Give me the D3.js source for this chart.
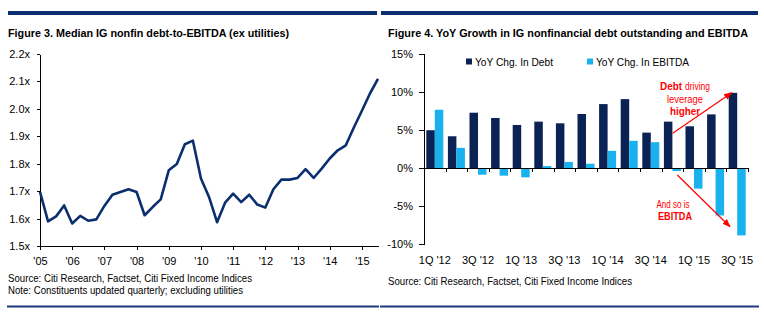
<!DOCTYPE html>
<html>
<head>
<meta charset="utf-8">
<script src="https://cdn.jsdelivr.net/npm/d3@7"></script>
<style>
  body { margin: 0; background: #fff; }
  svg { display: block; font-family: "Liberation Sans", Arial, sans-serif; }
  .axis path, .axis line { stroke: #000; shape-rendering: crispEdges; }
  .axis text { fill: #000; font-size: 11px; }
</style>
</head>
<body>
<svg id="chart" width="764" height="321"></svg>
<script>
// Figure 3: median debt-to-EBITDA, quarterly 1Q05 .. 3Q15
const leverage = [
  1.697, 1.590, 1.608, 1.648, 1.582, 1.610, 1.592, 1.597,
  1.646, 1.687, 1.697, 1.707, 1.697, 1.612, 1.642, 1.670,
  1.776, 1.799, 1.871, 1.884, 1.746, 1.679, 1.587, 1.658,
  1.691, 1.660, 1.687, 1.651, 1.640, 1.707, 1.742, 1.742,
  1.748, 1.780, 1.748, 1.782, 1.819, 1.849, 1.867, 1.932,
  1.993, 2.056, 2.109
];
const leverageStart = 2005;
const leverageYears = [2005, 2006, 2007, 2008, 2009, 2010, 2011, 2012, 2013, 2014, 2015];
const leverageTicks = [1.5, 1.6, 1.7, 1.8, 1.9, 2.0, 2.1, 2.2];

// Figure 4: YoY growth, %
const quarters = [
  "1Q '12", "2Q '12", "3Q '12", "4Q '12",
  "1Q '13", "2Q '13", "3Q '13", "4Q '13",
  "1Q '14", "2Q '14", "3Q '14", "4Q '14",
  "1Q '15", "2Q '15", "3Q '15"
];
const debtGrowth = [4.96, 4.17, 7.26, 6.57, 5.65, 6.09, 5.87, 7.09, 8.39, 9.04, 4.65, 6.09, 5.48, 7.04, 9.87];
const ebitdaGrowth = [7.65, 2.65, -0.87, -1.0, -1.22, 0.26, 0.8, 0.57, 2.26, 3.57, 3.39, -0.39, -2.70, -6.22, -8.83];
const growthTicks = [-10, -5, 0, 5, 10, 15];
const seriesNames = ["YoY Chg. In Debt", "YoY Chg. In EBITDA"];

const navy = "#0b2f6e";
const debtColor = "#0b2254";
const ebitdaColor = "#1ab2ee";
const red = "#ff0000";

const svg = d3.select("#chart");

// squeeze a text run into a given width
function fit(sel, w) {
  sel.attr("textLength", w).attr("lengthAdjust", "spacingAndGlyphs");
}

// header bars and footer rules
svg.append("rect").attr("x", 8).attr("y", 11).attr("width", 369).attr("height", 4).attr("fill", navy);
svg.append("rect").attr("x", 381).attr("y", 11).attr("width", 377).attr("height", 4).attr("fill", navy);
svg.append("rect").attr("x", 7).attr("y", 305.5).attr("width", 372).attr("height", 2).attr("fill", "#1a3a7a");
svg.append("rect").attr("x", 380).attr("y", 305.5).attr("width", 379).attr("height", 2).attr("fill", "#1a3a7a");

// titles
svg.append("text").attr("x", 8).attr("y", 37)
  .attr("font-size", 11.5).attr("font-weight", "bold")
  .text("Figure 3. Median IG nonfin debt-to-EBITDA (ex utilities)")
  .call(fit, 281);
svg.append("text").attr("x", 388).attr("y", 37)
  .attr("font-size", 11).attr("font-weight", "bold")
  .text("Figure 4. YoY Growth in IG nonfinancial debt outstanding and EBITDA")
  .call(fit, 360);

// sources
svg.append("text").attr("x", 8).attr("y", 282).attr("font-size", 11)
  .text("Source: Citi Research, Factset, Citi Fixed Income Indices").call(fit, 244);
svg.append("text").attr("x", 8).attr("y", 294).attr("font-size", 11)
  .text("Note: Constituents updated quarterly; excluding utilities").call(fit, 235);
svg.append("text").attr("x", 388).attr("y", 285).attr("font-size", 11)
  .text("Source: Citi Research, Factset, Citi Fixed Income Indices").call(fit, 244);

// ---- left panel: leverage line ----
const xL = d3.scaleLinear().domain([2005, 2015.5]).range([40, 378]);
const yL = d3.scaleLinear().domain([1.5, 2.2]).range([246, 54]);

svg.append("g").attr("class", "axis")
  .attr("transform", "translate(40,0)")
  .call(d3.axisLeft(yL).tickValues(leverageTicks).tickSize(3).tickPadding(7)
    .tickSizeOuter(0).tickFormat(d => d.toFixed(1) + "x"));

svg.append("g").attr("class", "axis")
  .attr("transform", "translate(0,246)")
  .call(d3.axisBottom(xL).tickValues(leverageYears).tickSize(4).tickPadding(7)
    .tickSizeOuter(0).tickFormat(d => "'" + String(d).slice(2)));

svg.append("path")
  .datum(leverage)
  .attr("fill", "none")
  .attr("stroke", navy)
  .attr("stroke-width", 2.6)
  .attr("stroke-linejoin", "round")
  .attr("d", d3.line()
    .x((d, i) => xL(leverageStart + i / 4))
    .y(d => yL(d)));

// ---- right panel: grouped bars ----
const xR = d3.scaleBand().domain(quarters).range([424, 748]);
const xSub = d3.scaleBand().domain(["debt", "ebitda"]).range([0, xR.bandwidth()]).paddingOuter(0.27);
const yR = d3.scaleLinear().domain([-10, 15]).range([244.3, 53.7]);

const rows = quarters.map((q, i) => ({ q, debt: debtGrowth[i], ebitda: ebitdaGrowth[i] }));

const groups = svg.append("g").selectAll("g")
  .data(rows)
  .join("g")
  .attr("transform", d => `translate(${xR(d.q)},0)`);

groups.selectAll("rect")
  .data(d => [["debt", d.debt], ["ebitda", d.ebitda]])
  .join("rect")
  .attr("x", d => xSub(d[0]))
  .attr("width", xSub.bandwidth())
  .attr("y", d => yR(Math.max(0, d[1])))
  .attr("height", d => Math.abs(yR(d[1]) - yR(0)))
  .attr("fill", d => d[0] === "debt" ? debtColor : ebitdaColor);

svg.append("g").attr("class", "axis")
  .attr("transform", "translate(424,0)")
  .call(d3.axisLeft(yR).tickValues(growthTicks).tickSize(5).tickPadding(6)
    .tickSizeOuter(0).tickFormat(d => d + "%"));

// zero line with boundary ticks between quarters
const xBounds = d3.scaleLinear().domain([0, quarters.length]).range(xR.range());
svg.append("g").attr("class", "axis")
  .attr("transform", `translate(0,${yR(0)})`)
  .call(d3.axisBottom(xBounds).ticks(quarters.length).tickSize(4).tickSizeOuter(0).tickFormat(""));

// category labels along the bottom, every other quarter
const labelAxis = svg.append("g").attr("class", "axis")
  .attr("transform", "translate(0,256)")
  .call(d3.axisBottom(xR).tickSize(0).tickPadding(0)
    .tickFormat((d, i) => i % 2 === 0 ? d : ""));
labelAxis.select(".domain").remove();

// legend
const legend = svg.append("g").selectAll("g")
  .data(seriesNames)
  .join("g")
  .attr("transform", (d, i) => `translate(${i === 0 ? 466 : 587},58.5)`);
legend.append("rect").attr("width", 6).attr("height", 6)
  .attr("fill", (d, i) => i === 0 ? debtColor : ebitdaColor);
legend.append("text").attr("x", 9).attr("y", 7).attr("font-size", 11)
  .text(d => d)
  .each(function(d, i) { d3.select(this).call(fit, i === 0 ? 78 : 93); });

// annotations
const defs = svg.append("defs");
defs.append("marker")
  .attr("id", "arrow")
  .attr("viewBox", "0 0 10 10")
  .attr("refX", 9).attr("refY", 5)
  .attr("markerWidth", 7).attr("markerHeight", 7)
  .attr("orient", "auto")
  .append("path").attr("d", "M0,1 L10,5 L0,9 Z").attr("fill", red);

const arrows = [
  { from: [672.7, 133.3], to: [731.7, 92.7] },
  { from: [677.3, 175], to: [730, 226.7] }
];
svg.append("g").selectAll("line")
  .data(arrows)
  .join("line")
  .attr("x1", d => d.from[0]).attr("y1", d => d.from[1])
  .attr("x2", d => d.to[0]).attr("y2", d => d.to[1])
  .attr("stroke", red).attr("stroke-width", 1.2)
  .attr("marker-end", "url(#arrow)");

const note = svg.append("g").attr("fill", red).attr("font-size", 11);
note.append("text").attr("x", 660).attr("y", 90).attr("font-weight", "bold").text("Debt").call(fit, 22);
note.append("text").attr("x", 685).attr("y", 90).text("driving").call(fit, 25);
note.append("text").attr("x", 685).attr("y", 102.7).attr("text-anchor", "middle").text("leverage").call(fit, 36);
note.append("text").attr("x", 685).attr("y", 115).attr("text-anchor", "middle").attr("font-weight", "bold").text("higher").call(fit, 30);
note.append("text").attr("x", 673).attr("y", 207.7).attr("text-anchor", "middle").text("And so is").call(fit, 33);
note.append("text").attr("x", 675).attr("y", 220).attr("text-anchor", "middle").attr("font-weight", "bold").text("EBITDA").call(fit, 34);
</script>
</body>
</html>
